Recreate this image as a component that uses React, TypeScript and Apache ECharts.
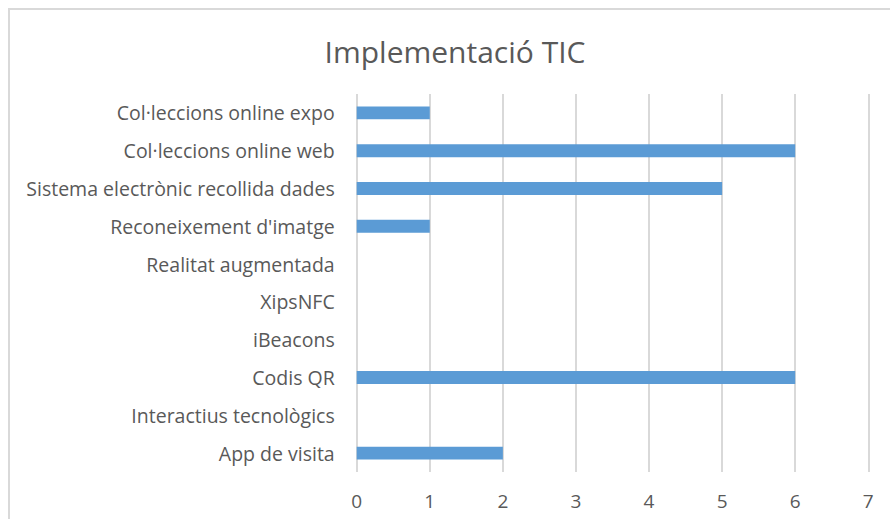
import React, { useEffect, useRef } from "react";
import * as echarts from "echarts";

const categories = [
  "App de visita",
  "Interactius tecnològics",
  "Codis QR",
  "iBeacons",
  "XipsNFC",
  "Realitat augmentada",
  "Reconeixement d'imatge",
  "Sistema electrònic recollida dades",
  "Col·leccions online web",
  "Col·leccions online expo",
];
const values = [2, 0, 6, 0, 0, 0, 1, 5, 6, 1];
const titleText = "Implementació TIC";

export default function App() {
  const ref = useRef<HTMLDivElement>(null);
  useEffect(() => {
    if (!ref.current) return;
    const chart = echarts.init(ref.current, null, { renderer: "svg" });
    chart.setOption({
      animation: false,
      backgroundColor: "transparent",
      title: {
        text: titleText,
        left: 450,
        textAlign: "center",
        top: 31,
        textStyle: { fontFamily: "Open Sans", fontSize: 30, fontWeight: "normal", color: "#595959" },
      },
      grid: { left: 356.7, right: 21.7, top: 94, bottom: 47, containLabel: false },
      xAxis: {
        type: "value",
        min: 0,
        max: 7,
        interval: 1,
        axisLine: { show: false },
        axisTick: { show: false },
        splitLine: { show: true, lineStyle: { color: "#D9D9D9", width: 2 } },
        axisLabel: { fontFamily: "Open Sans", fontSize: 19, color: "#595959", margin: 19 },
      },
      yAxis: {
        type: "category",
        data: categories,
        axisLine: { show: false },
        axisTick: { show: false },
        axisLabel: { fontFamily: "Open Sans", fontSize: 19.5, color: "#595959", margin: 22 },
      },
      series: [
        {
          type: "bar",
          data: values,
          barWidth: "34%",
          itemStyle: { color: "#5B9BD5" },
        },
      ],
    });
    return () => chart.dispose();
  }, []);
  return (
    <>
      <div
        style={{
          position: "fixed",
          left: 8,
          top: 8,
          width: 882,
          height: 511,
          borderLeft: "2px solid #D9D9D9",
          borderTop: "2px solid #D9D9D9",
          boxSizing: "border-box",
          background: "#fff",
        }}
      />
      <div ref={ref} style={{ position: "fixed", left: 0, top: 0, width: 890, height: 519 }} />
    </>
  );
}
